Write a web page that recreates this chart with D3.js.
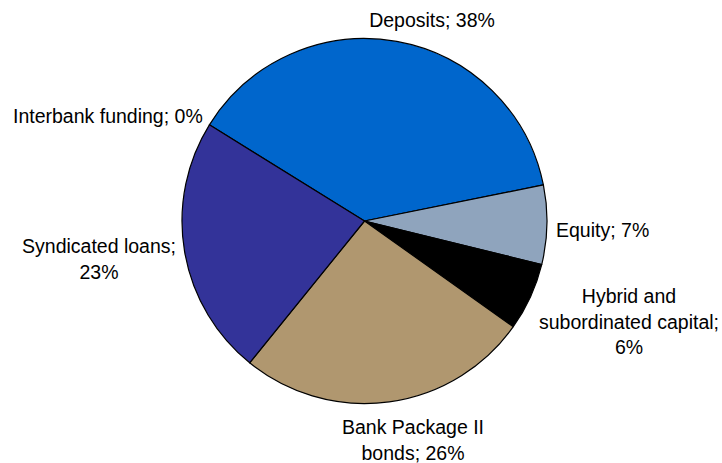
<!DOCTYPE html>
<html>
<head>
<meta charset="utf-8">
<script src="https://cdn.jsdelivr.net/npm/d3@7"></script>
<style>
  html, body { margin: 0; padding: 0; background: #fff; }
  svg { display: block; }
  text { font-family: "Liberation Sans", Arial, sans-serif; font-size: 19.5px; fill: #000; }
</style>
</head>
<body>
<svg id="chart" width="722" height="463"></svg>
<script>
// Funding sources (share of total, %)
const categories = ["Deposits", "Equity", "Hybrid and subordinated capital", "Bank Package II bonds", "Syndicated loans", "Interbank funding"];
const shares = [38, 7, 6, 26, 23, 0];
const sliceColors = ["#0066cc", "#8fa4bd", "#000000", "#b0976f", "#333399", "#6699cc"];
// Label lines for each slice
const labelLines = [
  ["Deposits; 38%"],
  ["Equity; 7%"],
  ["Hybrid and", "subordinated capital;", "6%"],
  ["Bank Package II", "bonds; 26%"],
  ["Syndicated loans;", "23%"],
  ["Interbank funding; 0%"]
];

const svg = d3.select("#chart");
const cx = 364.5, cy = 221, radius = 182.5;
const deg = Math.PI / 180;

const pie = d3.pie()
  .sort(null)
  .value(d => d.value)
  .startAngle(-58.2 * deg)
  .endAngle(301.8 * deg);

const data = categories.map((c, i) => ({ name: c, value: shares[i], color: sliceColors[i], lines: labelLines[i] }));
const arcs = pie(data);

const arc = d3.arc().innerRadius(0).outerRadius(radius);

const g = svg.append("g").attr("transform", `translate(${cx},${cy})`);

g.selectAll("path.slice")
  .data(arcs.filter(a => a.data.value > 0))
  .join("path")
  .attr("class", "slice")
  .attr("d", arc)
  .attr("fill", d => d.data.color)
  .attr("stroke", "#000")
  .attr("stroke-width", 1.2)
  .attr("stroke-linejoin", "round");

// Label positions around the pie
const labelSpec = {
  "Deposits": { x: 432, y: 27, anchor: "middle" },
  "Equity": { x: 556, y: 237, anchor: "start" },
  "Hybrid and subordinated capital": { x: 629, y: 303, anchor: "middle" },
  "Bank Package II bonds": { x: 413, y: 434, anchor: "middle" },
  "Syndicated loans": { x: 99, y: 253, anchor: "middle" },
  "Interbank funding": { x: 13, y: 123, anchor: "start" }
};
const lineHeight = 25.5;

const labels = svg.append("g").attr("class", "labels");
arcs.forEach(a => {
  const s = labelSpec[a.data.name];
  const t = labels.append("text")
    .attr("x", s.x)
    .attr("y", s.y)
    .attr("text-anchor", s.anchor);
  a.data.lines.forEach((ln, i) => {
    t.append("tspan")
      .attr("x", s.x)
      .attr("dy", i === 0 ? 0 : lineHeight)
      .text(ln);
  });
});
</script>
</body>
</html>
